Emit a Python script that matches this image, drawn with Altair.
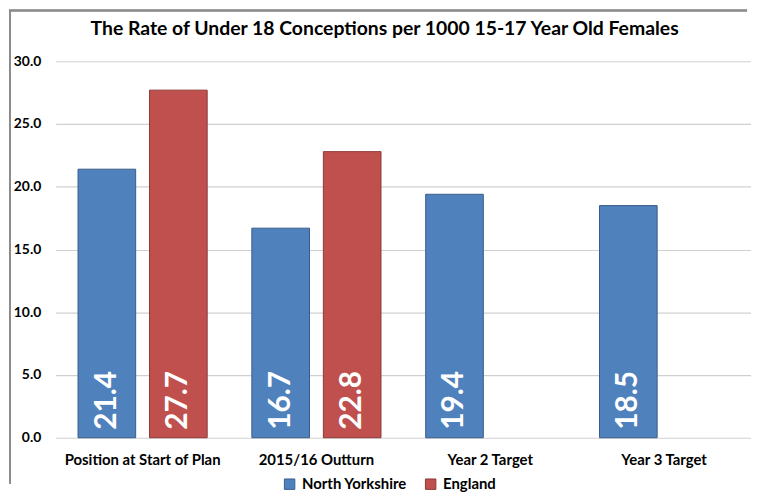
import altair as alt
import pandas as pd

categories = ["Position at Start of Plan", "2015/16 Outturn", "Year 2 Target", "Year 3 Target"]
series_names = ["North Yorkshire", "England"]
north_yorkshire = [21.4, 16.7, 19.4, 18.5]
england = [27.7, 22.8, None, None]

rows = []
for cat, ny, en in zip(categories, north_yorkshire, england):
    rows.append({"category": cat, "series": "North Yorkshire", "value": ny})
    if en is not None:
        rows.append({"category": cat, "series": "England", "value": en})
df = pd.DataFrame(rows)

FONT = "Lato"

x = alt.X("category:N", sort=categories, title=None,
          scale=alt.Scale(paddingInner=0, paddingOuter=0),
          axis=alt.Axis(labelAngle=0, labelFontSize=15, labelFontWeight="bold",
                        labelColor="#000000", labelFont=FONT, ticks=False,
                        domain=False, labelPadding=15))
xoff = alt.XOffset("series:N", sort=series_names,
                   scale=alt.Scale(domain=series_names, paddingInner=0.194, paddingOuter=0.3125))
y = alt.Y("value:Q", title=None,
          scale=alt.Scale(domain=[0, 30], nice=False),
          axis=alt.Axis(values=[0, 5, 10, 15, 20, 25, 30], format=".1f",
                        labelFontSize=14, labelFontWeight="bold", labelColor="#000000",
                        labelFont=FONT, ticks=False, domain=False, labelPadding=15,
                        gridColor="#D0D0D0", gridWidth=1.2, minExtent=47, maxExtent=47))
color = alt.Color("series:N", sort=series_names,
                  scale=alt.Scale(domain=series_names, range=["#4F81BD", "#C0504D"]),
                  legend=alt.Legend(title=None, orient="none", direction="horizontal",
                                    legendX=228, legendY=418, symbolType="square",
                                    symbolSize=110, symbolStrokeWidth=1,
                                    labelFontSize=15, labelFontWeight="bold",
                                    labelFont=FONT, labelColor="#000000",
                                    columnPadding=16, labelOffset=5, padding=0))
stroke = alt.Stroke("series:N", sort=series_names,
                    scale=alt.Scale(domain=series_names, range=["#385D8A", "#8C3836"]),
                    legend=None)

base = alt.Chart(df)

bars = base.mark_bar(strokeWidth=1).encode(x=x, xOffset=xoff, y=y, color=color, stroke=stroke)

labels = base.mark_text(angle=270, align="left", baseline="middle", dx=8,
                        fontSize=30, fontWeight="bold", font=FONT, color="white").encode(
    x=x, xOffset=xoff, y=alt.datum(0), text=alt.Text("value:Q", format=".1f"))

border_top = alt.Chart(df).mark_rule(color="#8C8C8C", strokeWidth=1.5).encode(
    x=alt.value(-47), x2=alt.value(696), y=alt.value(-51))
border_left = alt.Chart(df).mark_rule(color="#8C8C8C", strokeWidth=1.5).encode(
    x=alt.value(-46), y=alt.value(-51), y2=alt.value(425))

chart = alt.layer(bars, labels, border_top, border_left).properties(
    width=700, height=379,
    padding={"left": 0, "top": 0, "right": 0, "bottom": 0},
    title=alt.TitleParams("The Rate of Under 18 Conceptions per 1000 15-17 Year Old Females",
                          fontSize=19.5, fontWeight="bold", font=FONT, color="#000000",
                          anchor="middle", frame="bounds", offset=-30, dx=5),
).configure_view(stroke=None)

chart.save("out.html", embed_options={"renderer": "svg", "actions": False})
